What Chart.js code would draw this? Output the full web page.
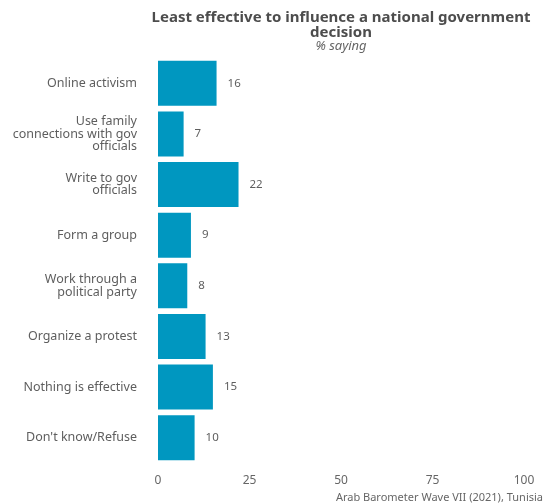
<!DOCTYPE html>
<html>
<head>
<meta charset="utf-8">
<script src="https://cdn.jsdelivr.net/npm/chart.js@4.4.1/dist/chart.umd.min.js"></script>
<style>
  body { margin: 0; background: #fff; }
  canvas { display: block; }
</style>
</head>
<body>
<canvas id="myChart" width="547" height="504"></canvas>
<script>
const FONT = "'Noto Sans', sans-serif";
const TEXT_COLOR = '#5e5e5e';
const BAR_COLOR = '#0097c0';

// data
const categories = [
  'Online activism',
  ['Use family', 'connections with gov', 'officials'],
  ['Write to gov', 'officials'],
  'Form a group',
  ['Work through a', 'political party'],
  'Organize a protest',
  'Nothing is effective',
  "Don't know/Refuse",
];
const values = [16, 7, 22, 9, 8, 13, 15, 10];
const xTicks = [0, 25, 50, 75, 100];

const titleLines = ['Least effective to influence a national government', 'decision'];
const subtitle = '% saying';
const caption = 'Arab Barometer Wave VII (2021), Tunisia';

// title, subtitle, caption and value labels
const textPlugin = {
  id: 'texts',
  afterDatasetsDraw(chart) {
    const ctx = chart.ctx;
    const area = chart.chartArea;
    const cx = (area.left + area.right) / 2;
    ctx.save();
    ctx.textAlign = 'center';
    ctx.textBaseline = 'middle';
    ctx.fillStyle = '#4d4d4d';
    ctx.font = `bold 15px ${FONT}`;
    ctx.fillText(titleLines[0], cx, 18);
    ctx.fillText(titleLines[1], cx, 33);
    ctx.font = `italic 13px ${FONT}`;
    ctx.fillStyle = '#666';
    ctx.fillText(subtitle, cx, 46);

    // value labels
    ctx.font = `11.5px ${FONT}`;
    ctx.fillStyle = TEXT_COLOR;
    ctx.textAlign = 'left';
    const meta = chart.getDatasetMeta(0);
    meta.data.forEach((bar, i) => {
      ctx.fillText(String(values[i]), bar.x + 11, bar.y);
    });

    // caption
    ctx.textAlign = 'right';
    ctx.font = `11px ${FONT}`;
    ctx.fillStyle = '#666';
    ctx.fillText(caption, 543, 498);
    ctx.restore();
  }
};

const ctx = document.getElementById('myChart');

const myChart = new Chart(ctx, {
  type: 'bar',
  data: {
    labels: categories,
    datasets: [{
      data: values,
      backgroundColor: BAR_COLOR,
      borderWidth: 0,
      barPercentage: 0.89,
      categoryPercentage: 1,
    }]
  },
  options: {
    indexAxis: 'y',
    responsive: false,
    animation: false,
    layout: {
      padding: { top: 58, right: 23, bottom: 0, left: 0 }
    },
    plugins: {
      legend: { display: false },
      tooltip: { enabled: false },
      title: { display: false },
    },
    scales: {
      x: {
        min: 0,
        max: 100,
        grid: { display: false, drawTicks: false },
        border: { display: false },
        afterBuildTicks: (scale) => {
          scale.ticks = xTicks.map(v => ({ value: v }));
        },
        afterFit: (scale) => { scale.height = 41; },
        ticks: {
          padding: 10,
          color: '#666',
          font: { family: FONT, size: 12 },
        },
      },
      y: {
        grid: { display: false, drawTicks: false },
        border: { display: false },
        afterFit: (scale) => { scale.width = 158; },
        ticks: {
          padding: 21,
          color: TEXT_COLOR,
          font: { family: FONT, size: 12.5, lineHeight: 1.0 },
        },
      },
    },
  },
  plugins: [textPlugin],
});
</script>
</body>
</html>
